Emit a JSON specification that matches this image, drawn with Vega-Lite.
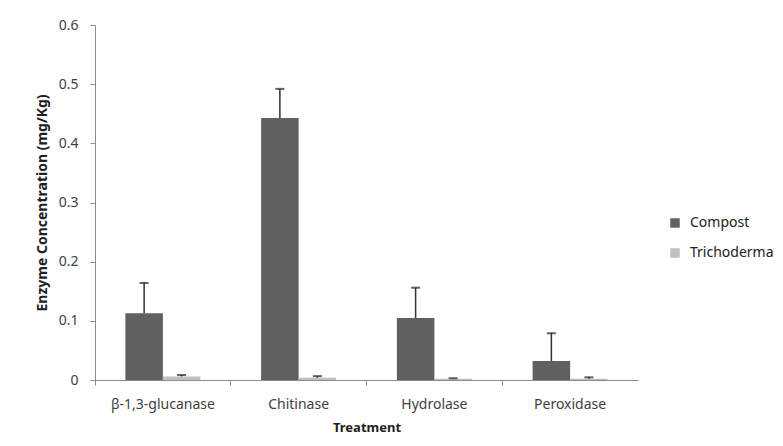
{
  "$schema": "https://vega.github.io/schema/vega-lite/v6.json",
  "autosize": "none",
  "width": 543,
  "height": 355,
  "padding": {"left": 95, "top": 25, "right": 145, "bottom": 66},
  "background": "white",
  "config": {
    "font": "Noto Sans",
    "view": {"stroke": null},
    "axis": {"domainColor": "#8c8c8c", "tickColor": "#8c8c8c", "labelColor": "#404040", "titleColor": "#202020", "grid": false, "titleFontSize": 13, "titleFontWeight": "bold"}
  },
  "data": {
    "values": [
      {"treatment": "β-1,3-glucanase", "group": "Compost", "value": 0.113, "upper": 0.164},
      {"treatment": "β-1,3-glucanase", "group": "Trichoderma", "value": 0.006, "upper": 0.0085},
      {"treatment": "Chitinase", "group": "Compost", "value": 0.443, "upper": 0.492},
      {"treatment": "Chitinase", "group": "Trichoderma", "value": 0.004, "upper": 0.0065},
      {"treatment": "Hydrolase", "group": "Compost", "value": 0.105, "upper": 0.156},
      {"treatment": "Hydrolase", "group": "Trichoderma", "value": 0.002, "upper": 0.003},
      {"treatment": "Peroxidase", "group": "Compost", "value": 0.032, "upper": 0.079},
      {"treatment": "Peroxidase", "group": "Trichoderma", "value": 0.002, "upper": 0.0045}
    ]
  },
  "encoding": {
    "x": {
      "field": "treatment", "type": "nominal", "sort": null, "title": "Treatment",
      "scale": {"paddingInner": 0, "paddingOuter": 0},
      "axis": {"labelAngle": 0, "bandPosition": 0, "tickSize": 5, "labelPadding": 12, "titlePadding": 10, "labelFontSize": 14}
    },
    "xOffset": {"field": "group", "type": "nominal", "scale": {"paddingInner": 0, "paddingOuter": 0.81}}
  },
  "layer": [
    {
      "mark": {"type": "bar"},
      "encoding": {
        "y": {
          "field": "value", "type": "quantitative", "title": "Enzyme Concentration (mg/Kg)",
          "scale": {"domain": [0, 0.6], "nice": false},
          "axis": {"values": [0, 0.1, 0.2, 0.3, 0.4, 0.5, 0.6], "format": ".1~f", "tickSize": 5, "labelPadding": 12, "titlePadding": 9, "labelFontSize": 14, "titleFontSize": 14}
        },
        "color": {
          "field": "group", "type": "nominal", "title": null,
          "scale": {"domain": ["Compost", "Trichoderma"], "range": ["#606060", "#c0c0c0"]},
          "legend": {"orient": "none", "legendX": 573, "legendY": 191, "symbolType": "square", "symbolSize": 90, "symbolStrokeWidth": 0, "labelFontSize": 14, "rowPadding": 16, "labelOffset": 8, "labelColor": "#202020"}
        }
      }
    },
    {
      "mark": {"type": "rule", "color": "#303030", "strokeWidth": 1.5},
      "encoding": {"y": {"field": "value", "type": "quantitative"}, "y2": {"field": "upper"}}
    },
    {
      "mark": {"type": "tick", "color": "#202020", "thickness": 2, "size": 9},
      "encoding": {"y": {"field": "upper", "type": "quantitative"}}
    }
  ]
}
